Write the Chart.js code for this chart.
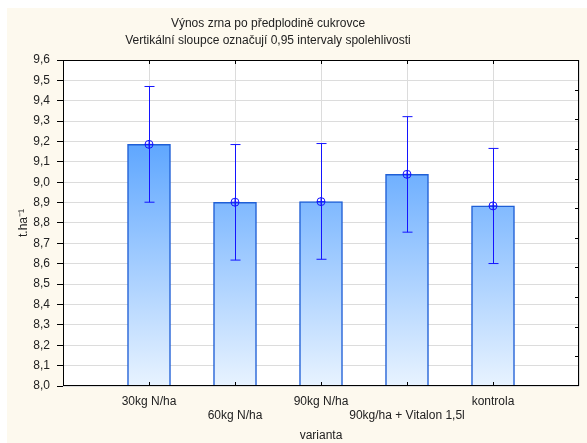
<!DOCTYPE html>
<html>
<head>
<meta charset="utf-8">
<script src="https://cdn.jsdelivr.net/npm/chart.js@4"></script>
<style>
  html, body { margin: 0; padding: 0; background: #fff; }
  #wrap { width: 587px; height: 443px; }
</style>
</head>
<body>
<div id="wrap"><canvas id="yieldChart" width="587" height="443"></canvas></div>
<script>
// data
var categories = ["", "30kg N/ha", "60kg N/ha", "90kg N/ha", "90kg/ha + Vitalon 1,5l", "kontrola", ""];
var means = [null, 9.186, 8.902, 8.905, 9.039, 8.884, null];
var upper = [null, 9.47, 9.185, 9.19, 9.322, 9.166, null];
var lower = [null, 8.902, 8.618, 8.622, 8.755, 8.601, null];
var yMin = 8.0, yMax = 9.6, yStep = 0.1;
var titleLines = ["Výnos zrna po předplodině cukrovce", "Vertikální sloupce označují 0,95 intervaly spolehlivosti"];

var FONT = "'Liberation Sans', Arial, sans-serif";
var TEXT = "#222";
var ERR = "#1414ff";

var frame = {
  id: "frame",
  beforeDraw: function (chart) {
    var ctx = chart.ctx, a = chart.chartArea;
    ctx.save();
    ctx.fillStyle = "#fff";
    ctx.fillRect(0, 0, chart.width, chart.height);
    ctx.fillStyle = "#fdf9ee";
    ctx.fillRect(7, 8, chart.width - 7, chart.height - 8);
    ctx.fillStyle = "#fff";
    ctx.fillRect(a.left, a.top, a.right - a.left, a.bottom - a.top);
    // titles
    ctx.fillStyle = TEXT;
    ctx.font = "12px " + FONT;
    ctx.textAlign = "center";
    ctx.textBaseline = "middle";
    ctx.fillText(titleLines[0], 268, 24);
    ctx.fillText(titleLines[1], 268, 41);
    ctx.restore();
  },
  afterDatasetsDraw: function (chart) {
    var ctx = chart.ctx, x = chart.scales.x, y = chart.scales.y;
    ctx.save();
    ctx.strokeStyle = ERR;
    ctx.lineWidth = 1;
    for (var i = 0; i < means.length; i++) {
      if (means[i] === null) continue;
      var px = Math.round(x.getPixelForValue(i)) + 0.5;
      var top = y.getPixelForValue(upper[i]);
      var bot = y.getPixelForValue(lower[i]);
      ctx.beginPath();
      ctx.moveTo(px, top); ctx.lineTo(px, bot);
      ctx.moveTo(px - 5, top); ctx.lineTo(px + 5, top);
      ctx.moveTo(px - 5, bot); ctx.lineTo(px + 5, bot);
      ctx.stroke();
    }
    ctx.restore();
  },
  afterDraw: function (chart) {
    var ctx = chart.ctx, a = chart.chartArea, x = chart.scales.x, y = chart.scales.y;
    ctx.save();
    ctx.strokeStyle = "#000";
    ctx.lineWidth = 1;
    ctx.strokeRect(a.left + 0.5, a.top + 0.5, a.right - a.left - 1, a.bottom - a.top - 1);
    ctx.beginPath();
    for (var i = 1; i < categories.length - 1; i++) {
      var px = Math.round(x.getPixelForValue(i)) + 0.5;
      ctx.moveTo(px, a.top); ctx.lineTo(px, a.top + 4);
      ctx.moveTo(px, a.bottom); ctx.lineTo(px, a.bottom - 4);
    }
    for (var k = 1; k < 11; k++) {
      var py = Math.round(y.getPixelForValue(yMin + (yMax - yMin) * k / 11)) + 0.5;
      ctx.moveTo(a.right - 4, py); ctx.lineTo(a.right, py);
    }
    ctx.stroke();
    ctx.restore();
  }
};

function barFill(context) {
  var a = context.chart.chartArea;
  if (!a) return "#6ab0ff";
  var g = context.chart.ctx.createLinearGradient(0, a.top, 0, a.bottom);
  g.addColorStop(0, "#2f8cff");
  g.addColorStop(1, "#e8f3ff");
  return g;
}

new Chart(document.getElementById("yieldChart").getContext("2d"), {
  data: {
    labels: categories,
    datasets: [
      {
        type: "line",
        data: means,
        showLine: false,
        pointStyle: "circle",
        pointRadius: 4,
        pointBorderWidth: 1,
        pointBorderColor: ERR,
        pointBackgroundColor: "rgba(0,0,0,0)",
        order: 1
      },
      {
        type: "line",
        data: means,
        showLine: false,
        pointStyle: "cross",
        pointRadius: 4,
        pointBorderWidth: 1,
        pointBorderColor: ERR,
        order: 1
      },
      {
        type: "bar",
        data: means,
        barThickness: 43,
        backgroundColor: barFill,
        borderColor: "#1f5fd6",
        borderWidth: 1.5,
        borderSkipped: "bottom",
        base: yMin,
        order: 3
      }
    ]
  },
  options: {
    responsive: false,
    animation: false,
    layout: { padding: { top: 60, right: 8, left: 0, bottom: 0 } },
    plugins: { legend: { display: false }, tooltip: { enabled: false }, title: { display: false } },
    scales: {
      x: {
        type: "category",
        offset: false,
        grid: { color: "#dcdcdc", drawTicks: false, offset: false },
        border: { display: false },
        ticks: {
          color: TEXT,
          font: { family: FONT, size: 12 },
          padding: 8,
          maxRotation: 0,
          autoSkip: false,
          callback: function (v, i) {
            var l = categories[i];
            return i % 2 === 1 ? [l] : ["", l];
          }
        },
        title: { display: true, text: "varianta", color: TEXT, font: { family: FONT, size: 12 }, padding: { top: 0, bottom: 0 } },
        afterFit: function (s) { s.height = 57; }
      },
      y: {
        min: yMin,
        max: yMax,
        grid: { color: "#dcdcdc", tickColor: "#000", tickLength: 6 },
        border: { display: false },
        ticks: {
          stepSize: yStep,
          color: TEXT,
          font: { family: FONT, size: 12 },
          padding: 7,
          callback: function (v) { return v.toFixed(1).replace(".", ","); }
        },
        title: { display: true, text: "t.ha⁻¹", color: TEXT, font: { family: FONT, size: 12 }, padding: { top: 16, bottom: 0 } },
        afterFit: function (s) { s.width = 63; }
      }
    }
  },
  plugins: [frame]
});
</script>
</body>
</html>
